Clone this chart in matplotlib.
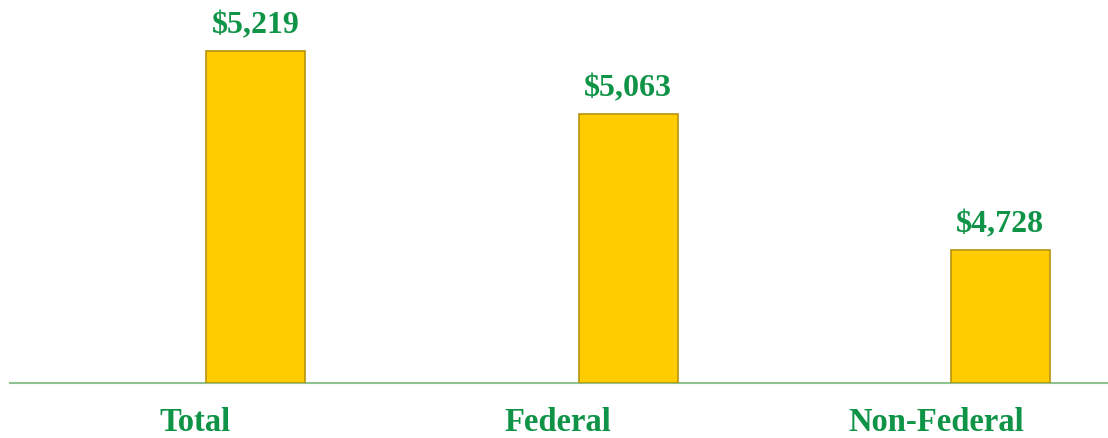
import matplotlib.pyplot as plt

# datos
categorias = ["Total", "Federal", "Non-Federal"]
valores = [5219, 5063, 4728]
etiquetas = ["$5,219", "$5,063", "$4,728"]

verde = "#0f9447"
amarillo = "#ffcc00"

fig = plt.figure(figsize=(11.08, 4.39), dpi=100)
ax = fig.add_axes([10 / 1108, 1 - 383.5 / 439, 1 - 10 / 1108, 383.5 / 439])

x = list(range(len(categorias)))
base = 4400
ax.bar(x, [v - base for v in valores], bottom=base, width=0.266,
       color=amarillo, edgecolor="#b8940c", linewidth=1.2, zorder=3)

for xi, v, t in zip(x, valores, etiquetas):
    ax.text(xi, v + 28, t, ha="center", va="bottom", color=verde,
            fontsize=23, fontweight="bold", family="Liberation Serif")

# las etiquetas de categoría quedan algo a la izquierda de las barras
desplaz = [-0.163, -0.188, -0.171]
for xi, d, c in zip(x, desplaz, categorias):
    ax.text(xi + d, base - 97, c, ha="center", va="center", color=verde,
            fontsize=23.5, fontweight="bold", family="Liberation Serif")

ax.set_xlim(-0.661, 2.29)
ax.set_ylim(base, 5347)
ax.set_xticks([])
ax.set_yticks([])
for lado in ["top", "right", "left"]:
    ax.spines[lado].set_visible(False)
ax.spines["bottom"].set_color("#8fc293")
ax.spines["bottom"].set_linewidth(1.5)

fig.savefig("out.png", dpi=100)
